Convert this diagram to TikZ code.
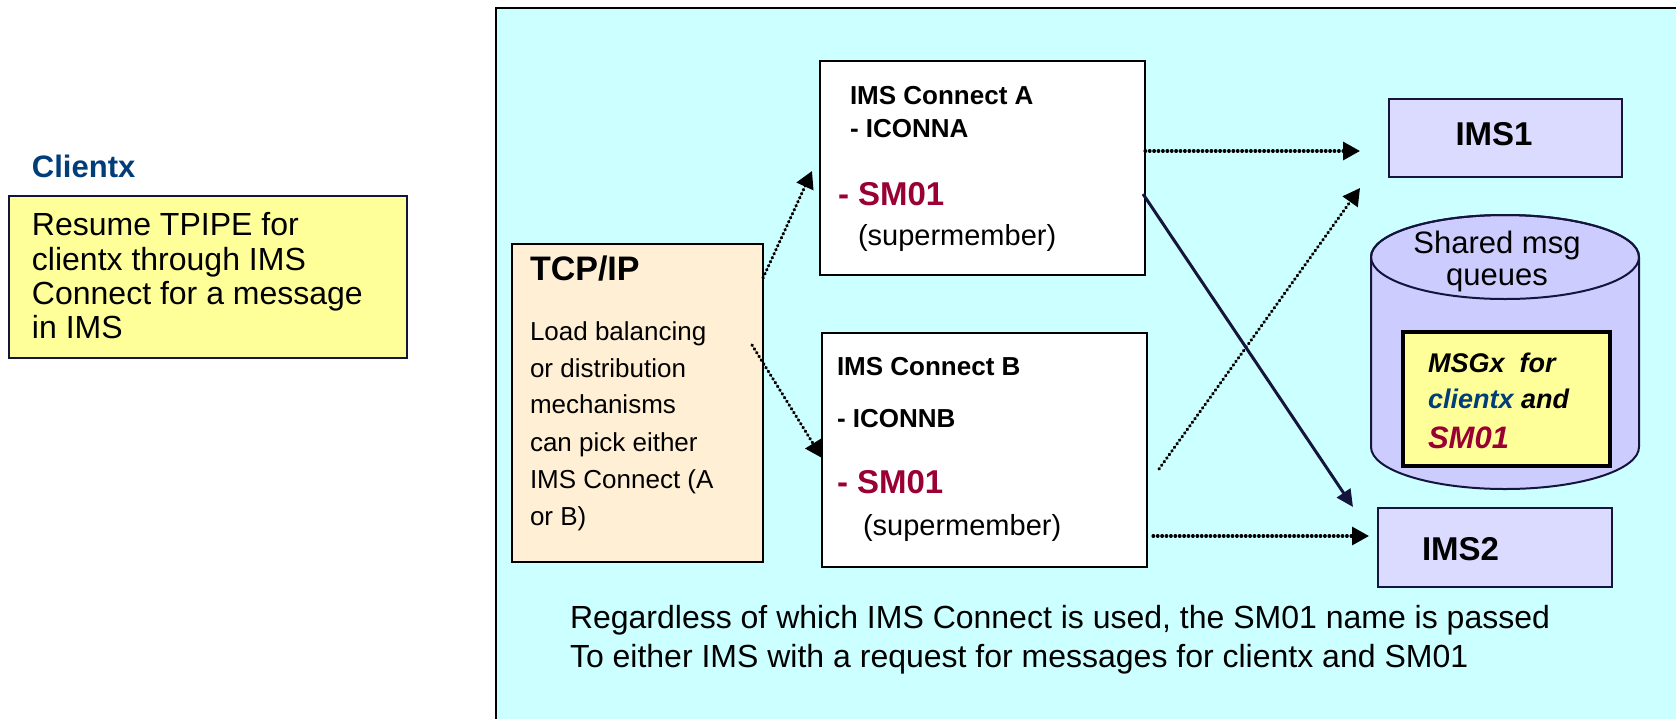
\documentclass[tikz,border=0pt]{standalone}
\usepackage{fontspec}
\setmainfont{Liberation Sans}
\usetikzlibrary{arrows.meta}
\definecolor{panelc}{RGB}{204,255,255}
\definecolor{peach}{RGB}{255,239,213}
\definecolor{lav}{RGB}{219,219,255}
\definecolor{cylc}{RGB}{204,204,255}
\definecolor{yel}{RGB}{255,255,153}
\definecolor{smred}{RGB}{153,0,51}
\definecolor{cblue}{RGB}{0,61,121}
\definecolor{navy}{RGB}{20,20,60}
\newcommand{\fsz}[2]{\fontsize{#1}{#2}\selectfont}
\begin{document}
\begin{tikzpicture}[x=0.5pt,y=-0.5pt,
  box/.style={draw, line width=1pt, anchor=north west, inner sep=0pt, outer sep=0pt},
  txt/.style={anchor=base west, inner sep=0pt, outer sep=0pt},
  ctxt/.style={anchor=base, inner sep=0pt, outer sep=0pt},
  dotarrow/.style={line width=1.6pt, dash pattern=on 0.3pt off 1.9pt, line cap=round, -{Triangle[length=8.5pt,width=9pt]}},
  solidarrow/.style={draw=navy, line width=1.5pt, -{Triangle[length=8.5pt,width=8pt]}}]
\useasboundingbox (0,0) rectangle (1676,718);
\clip (0,0) rectangle (1676,718);
% panel
\node[box, fill=panelc, minimum width=600pt, minimum height=360pt] (panel) at (496,8) {};
% Clientx
\node[txt, text=cblue, font=\fsz{15.5pt}{18pt}\bfseries] (clientlbl) at (32,177) {Clientx};
\node[box, draw=navy, fill=yel, minimum width=199pt, minimum height=81pt] (client) at (9,196) {};
\node[txt, font=\fsz{16pt}{18pt}] (cl1) at (32,235) {Resume TPIPE for};
\node[txt, font=\fsz{16pt}{18pt}] (cl2) at (32,270) {clientx through IMS};
\node[txt, font=\fsz{16pt}{18pt}] (cl3) at (32,304) {Connect for a message};
\node[txt, font=\fsz{16pt}{18pt}] (cl4) at (32,338) {in IMS};
% TCP/IP
\node[box, fill=peach, minimum width=125.5pt, minimum height=159pt] (tcp) at (512,244) {};
\node[txt, font=\fsz{17pt}{20pt}\bfseries] (tcpt) at (530,280) {TCP/IP};
\node[txt, font=\fsz{13pt}{15pt}] (t1) at (530,340) {Load balancing};
\node[txt, font=\fsz{13pt}{15pt}] (t2) at (530,377) {or distribution};
\node[txt, font=\fsz{13pt}{15pt}] (t3) at (530,413) {mechanisms};
\node[txt, font=\fsz{13pt}{15pt}] (t4) at (530,451) {can pick either};
\node[txt, font=\fsz{13pt}{15pt}] (t5) at (530,488) {IMS Connect (A};
\node[txt, font=\fsz{13pt}{15pt}] (t6) at (530,525) {or B)};
% IMS Connect A
\node[box, fill=white, minimum width=162.5pt, minimum height=107pt] (ca) at (820,61) {};
\node[txt, font=\fsz{13pt}{15pt}\bfseries] (ca1) at (850,104) {IMS Connect A};
\node[txt, font=\fsz{13pt}{15pt}\bfseries] (ca2) at (850,137) {- ICONNA};
\node[txt, text=smred, font=\fsz{16.5pt}{19pt}\bfseries] (ca3) at (838,205) {- SM01};
\node[txt, font=\fsz{14.5pt}{17pt}] (ca4) at (858,245) {(supermember)};
% IMS Connect B
\node[box, fill=white, minimum width=162.5pt, minimum height=117pt] (cb) at (822,333) {};
\node[txt, font=\fsz{13pt}{15pt}\bfseries] (cb1) at (837,375) {IMS Connect B};
\node[txt, font=\fsz{13pt}{15pt}\bfseries] (cb2) at (837,427) {- ICONNB};
\node[txt, text=smred, font=\fsz{16.5pt}{19pt}\bfseries] (cb3) at (837,493) {- SM01};
\node[txt, font=\fsz{14.5pt}{17pt}] (cb4) at (863,535) {(supermember)};
% IMS1 / IMS2
\node[box, draw=navy, fill=lav, minimum width=116.5pt, minimum height=39pt] (ims1) at (1389,99) {};
\node[ctxt, font=\fsz{16.5pt}{19pt}\bfseries] (ims1t) at (1494,145) {IMS1};
\node[box, draw=navy, fill=lav, minimum width=117pt, minimum height=39.5pt] (ims2) at (1378,508) {};
\node[txt, font=\fsz{16.5pt}{19pt}\bfseries] (ims2t) at (1422,560) {IMS2};
% cylinder
\filldraw[fill=cylc, draw=navy, line width=1pt] (1371,257) -- (1371,447)
  arc[start angle=180, end angle=360, x radius=67pt, y radius=21pt] -- (1639,257)
  arc[start angle=0, end angle=180, x radius=67pt, y radius=21pt] -- cycle;
\draw[navy, line width=1pt] (1505,257) ellipse [x radius=67pt, y radius=21pt];
\node[ctxt, font=\fsz{15.5pt}{18pt}] (sh1) at (1497,253) {Shared msg};
\node[ctxt, font=\fsz{15.5pt}{18pt}] (sh2) at (1497,285) {queues};
% message box
\node[box, fill=yel, line width=2pt, minimum width=103.5pt, minimum height=67pt] (msg) at (1403,332) {};
\node[txt, font=\fsz{13.5pt}{16pt}\bfseries\itshape] (m1) at (1428,372) {MSGx\ \ for};
\node[txt, font=\fsz{13.5pt}{16pt}\bfseries\itshape] (m2) at (1428,408) {\textcolor{cblue}{clientx} and};
\node[txt, text=smred, font=\fsz{15.5pt}{18pt}\bfseries\itshape] (m3) at (1428,448) {SM01};
% bottom text
\node[txt, font=\fsz{16pt}{18pt}] (b1) at (570,628) {Regardless of which IMS Connect is used, the SM01 name is passed};
\node[txt, font=\fsz{16pt}{18pt}] (b2) at (570,667) {To either IMS with a request for messages for clientx and SM01};
% connector end points
\coordinate (a1s) at (763,278); \coordinate (a1e) at (812,171);
\coordinate (a2s) at (752,345); \coordinate (a2e) at (822,458);
\coordinate (a3s) at (1145,151); \coordinate (a3e) at (1360,151);
\coordinate (a4s) at (1159,469); \coordinate (a4e) at (1360,188);
\coordinate (a5s) at (1143,194); \coordinate (a5e) at (1353,507);
\coordinate (a6s) at (1153,536); \coordinate (a6e) at (1369,536);
\draw[dotarrow] (a1s) -- (a1e);
\draw[dotarrow] (a2s) -- (a2e);
\draw[dotarrow] (a3s) -- (a3e);
\draw[dotarrow] (a4s) -- (a4e);
\draw[solidarrow] (a5s) -- (a5e);
\draw[dotarrow] (a6s) -- (a6e);
\end{tikzpicture}
\end{document}
